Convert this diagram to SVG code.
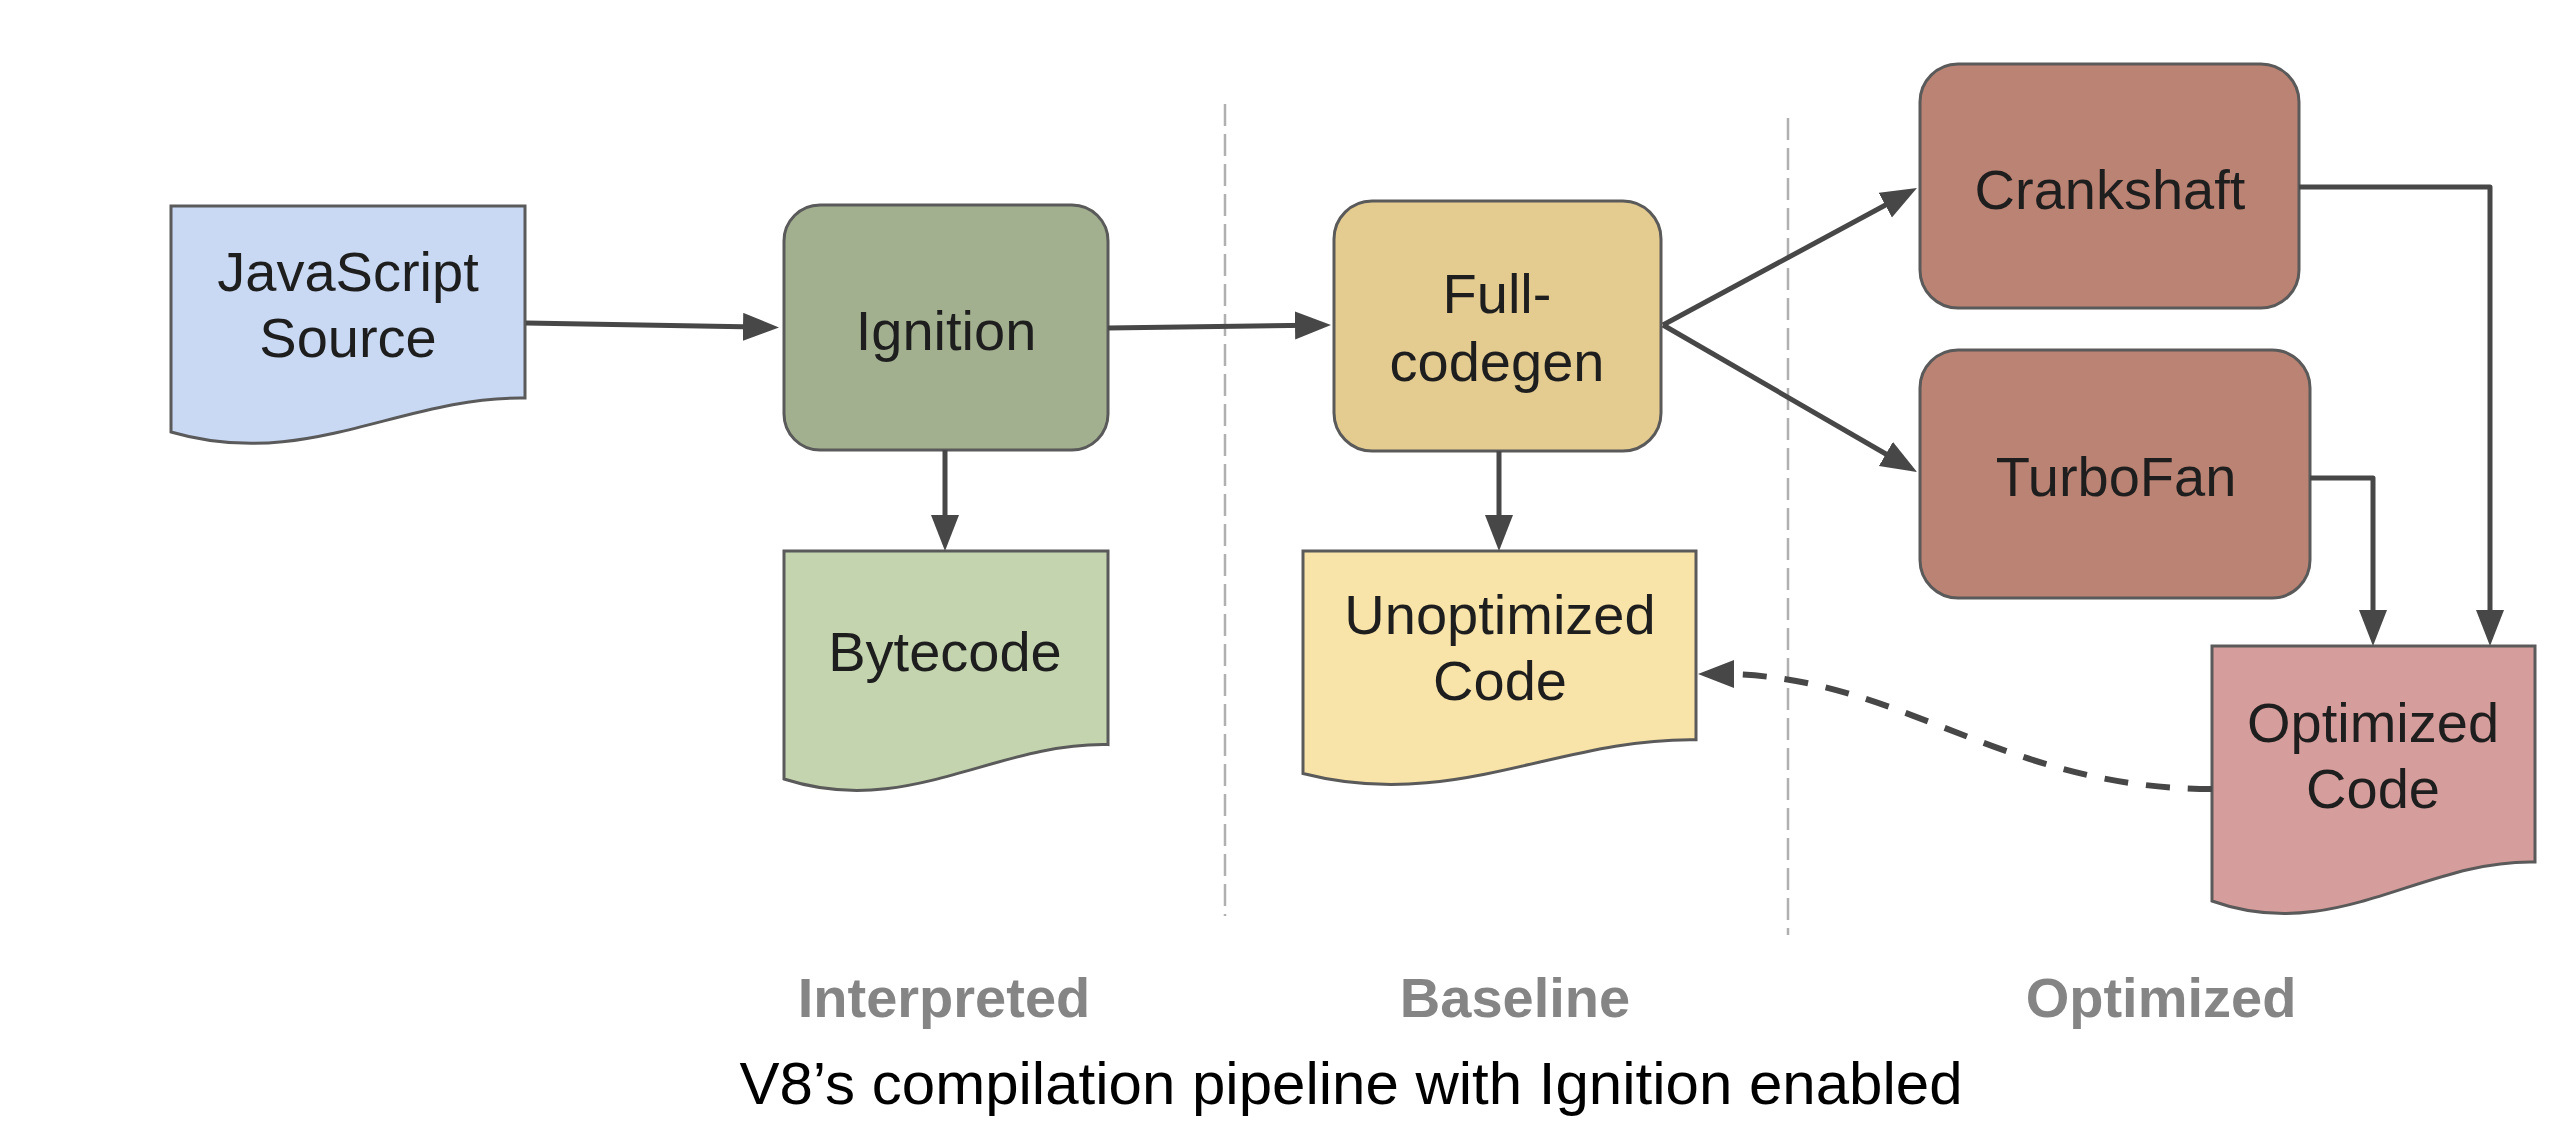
<svg xmlns="http://www.w3.org/2000/svg" width="2560" height="1148" viewBox="0 0 2560 1148">
<style>
.box{stroke:#5a5a5a;stroke-width:3}
.lbl{font-family:"Liberation Sans",Arial,sans-serif;font-size:56px;fill:#1e1e1e;text-anchor:middle}
.sec{font-family:"Liberation Sans",Arial,sans-serif;font-size:56px;font-weight:bold;fill:#858585;text-anchor:middle}
.cap{font-family:"Liberation Sans",Arial,sans-serif;font-size:60px;fill:#000;text-anchor:middle}
.con{fill:none;stroke:#474747;stroke-width:5;stroke-linejoin:round}
.dash{stroke-width:6;stroke-dasharray:24 18}
.sep{fill:none;stroke:#b0b0b0;stroke-width:2.5;stroke-dasharray:22 8}
</style>
<defs>
<marker id="arr" markerUnits="userSpaceOnUse" markerWidth="38" markerHeight="30" refX="14" refY="14" orient="auto" viewBox="0 0 38 30">
<path d="M0,0 L36,14 L0,28 z" fill="#474747"/>
</marker>
</defs>
<rect width="2560" height="1148" fill="#fff"/>
<g id="separators">
<line class="sep" x1="1225" y1="104" x2="1225" y2="916"/>
<line class="sep" x1="1788" y1="118" x2="1788" y2="935"/>
</g>
<g id="js-source">
<path class="box" fill="#c9d9f3" d="M171,206 H525 V398 C401,396 305.5,471.4 171,432 Z"/>
<text class="lbl" x="348" y="291">JavaScript</text>
<text class="lbl" x="348" y="357">Source</text>
</g>
<g id="ignition">
<rect class="box" fill="#a2b08f" x="784" y="205" width="324" height="245" rx="36"/>
<text class="lbl" x="946" y="350">Ignition</text>
</g>
<g id="bytecode">
<path class="box" fill="#c3d4ae" d="M784,551 H1108 V744.6 C994.6,742.2 907,818.7 784,779 Z"/>
<text class="lbl" x="945" y="671">Bytecode</text>
</g>
<g id="full-codegen">
<rect class="box" fill="#e4cb90" x="1334" y="201" width="327" height="250" rx="38"/>
<text class="lbl" x="1497" y="313">Full-</text>
<text class="lbl" x="1497" y="381">codegen</text>
</g>
<g id="unoptimized-code">
<path class="box" fill="#f8e3a8" d="M1303,551 H1696 V739.7 C1558.4,737.4 1452.3,812 1303,773.5 Z"/>
<text class="lbl" x="1500" y="634">Unoptimized</text>
<text class="lbl" x="1500" y="700">Code</text>
</g>
<g id="crankshaft">
<rect class="box" fill="#bb8373" x="1920" y="64" width="379" height="244" rx="38"/>
<text class="lbl" x="2110" y="209">Crankshaft</text>
</g>
<g id="turbofan">
<rect class="box" fill="#bb8373" x="1920" y="350" width="390" height="248" rx="38"/>
<text class="lbl" x="2116" y="496">TurboFan</text>
</g>
<g id="optimized-code">
<path class="box" fill="#d59d9b" d="M2212,646 H2535 V862 C2422,859.3 2334.7,945 2212,901 Z"/>
<text class="lbl" x="2373" y="742">Optimized</text>
<text class="lbl" x="2373" y="808">Code</text>
</g>
<g id="connectors">
<path class="con" marker-end="url(#arr)" d="M526,323 L757,327.1"/>
<path class="con" marker-end="url(#arr)" d="M1108,328 L1309,325.3"/>
<path class="con" marker-end="url(#arr)" d="M1663,325 L1897.6,198.5"/>
<path class="con" marker-end="url(#arr)" d="M1663,325 L1898,461"/>
<path class="con" marker-end="url(#arr)" d="M945,450 L945,529"/>
<path class="con" marker-end="url(#arr)" d="M1499,451 L1499,529"/>
<path class="con" marker-end="url(#arr)" d="M2299,187 H2490 V624"/>
<path class="con" marker-end="url(#arr)" d="M2310,478 H2373 V624"/>
<path class="con dash" marker-end="url(#arr)" d="M2212,789 C2000,789 1900,674 1720,674"/>
</g>
<g id="section-labels">
<text class="sec" x="944" y="1017">Interpreted</text>
<text class="sec" x="1515" y="1017">Baseline</text>
<text class="sec" x="2161" y="1017">Optimized</text>
</g>
<text class="cap" x="1351" y="1104">V8’s compilation pipeline with Ignition enabled</text>
</svg>
